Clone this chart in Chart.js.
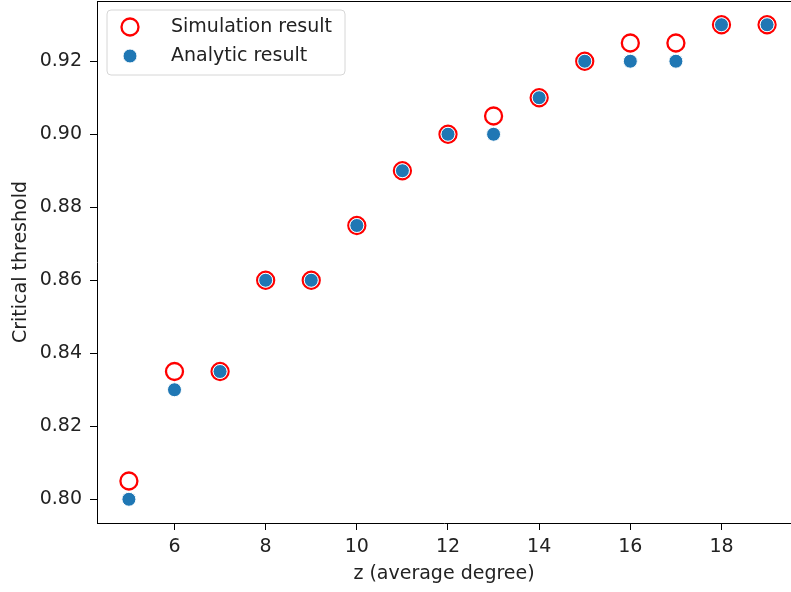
<!DOCTYPE html>
<html>
<head>
<meta charset="utf-8">
<script src="https://cdn.jsdelivr.net/npm/chart.js@4/dist/chart.umd.min.js"></script>
<style>
  html, body { margin: 0; padding: 0; background: #fff; }
  #thresholdChart { display: block; }
</style>
</head>
<body>
<canvas id="thresholdChart" width="791" height="592"></canvas>
<script>
// average degree z
const degrees = [5, 6, 7, 8, 9, 10, 11, 12, 13, 14, 15, 16, 17, 18, 19];
const simulationResult = [0.805, 0.835, 0.835, 0.86, 0.86, 0.875, 0.89, 0.90, 0.905, 0.91, 0.92, 0.925, 0.925, 0.93, 0.93];
const analyticResult = [0.80, 0.83, 0.835, 0.86, 0.86, 0.875, 0.89, 0.90, 0.90, 0.91, 0.92, 0.92, 0.92, 0.93, 0.93];
const xTicks = [6, 8, 10, 12, 14, 16, 18];
const yTicks = [0.80, 0.82, 0.84, 0.86, 0.88, 0.90, 0.92];

const FONT = 'DejaVu Sans';
const TEXT_COLOR = '#222';

function toPoints(xs, ys) {
  return xs.map((x, i) => ({ x: x, y: ys[i] }));
}

// matplotlib style frame (top spine) + legend in upper left
const framePlugin = {
  id: 'frame',
  afterDraw(chart) {
    const ctx = chart.ctx;
    const area = chart.chartArea;
    ctx.save();
    ctx.strokeStyle = '#000';
    ctx.lineWidth = 1;
    ctx.beginPath();
    ctx.moveTo(area.left, area.top + 0.5);
    ctx.lineTo(area.right, area.top + 0.5);
    ctx.stroke();

    // legend box
    const bx = 107, by = 10, bw = 238, bh = 65, r = 4;
    ctx.beginPath();
    ctx.moveTo(bx + r, by);
    ctx.arcTo(bx + bw, by, bx + bw, by + bh, r);
    ctx.arcTo(bx + bw, by + bh, bx, by + bh, r);
    ctx.arcTo(bx, by + bh, bx, by, r);
    ctx.arcTo(bx, by, bx + bw, by, r);
    ctx.closePath();
    ctx.fillStyle = 'rgba(255,255,255,0.8)';
    ctx.fill();
    ctx.strokeStyle = '#d6d6d6';
    ctx.stroke();

    const items = chart.data.datasets;
    items.forEach((ds, i) => {
      const cy = 27 + i * 29;
      ctx.beginPath();
      ctx.arc(130, cy, ds.pointRadius, 0, Math.PI * 2);
      ctx.fillStyle = ds.backgroundColor;
      ctx.fill();
      ctx.lineWidth = ds.borderWidth;
      ctx.strokeStyle = ds.borderColor;
      ctx.stroke();
      ctx.fillStyle = TEXT_COLOR;
      ctx.font = '19px "' + FONT + '"';
      ctx.textBaseline = 'middle';
      ctx.textAlign = 'left';
      ctx.fillText(ds.label, 171, cy);
    });
    ctx.restore();
  }
};

const ctx = document.getElementById('thresholdChart').getContext('2d');
const chart = new Chart(ctx, {
  type: 'scatter',
  data: {
    datasets: [{
      label: 'Simulation result',
      data: toPoints(degrees, simulationResult),
      pointRadius: 8.5,
      pointHoverRadius: 8.5,
      borderWidth: 2.3,
      borderColor: '#ff0000',
      backgroundColor: 'rgba(255,255,255,0)',
      order: 2
    }, {
      label: 'Analytic result',
      data: toPoints(degrees, analyticResult),
      pointRadius: 7,
      pointHoverRadius: 7,
      borderWidth: 1,
      borderColor: '#ffffff',
      backgroundColor: '#1f77b4',
      order: 1
    }]
  },
  plugins: [framePlugin],
  options: {
    responsive: false,
    animation: false,
    devicePixelRatio: 1,
    layout: { autoPadding: false, padding: { top: 1, right: 0, left: 0, bottom: 0 } },
    plugins: {
      legend: { display: false },
      tooltip: { enabled: false }
    },
    scales: {
      x: {
        type: 'linear',
        min: 4.3,
        max: 19.525,
        afterBuildTicks: (scale) => { scale.ticks = xTicks.map(v => ({ value: v })); },
        afterFit: (scale) => {
          scale.height = 69;
          scale.paddingLeft = 0;
          scale.paddingRight = 0;
        },
        grid: { drawOnChartArea: false, tickLength: 7, tickColor: '#000' },
        border: { color: '#000', width: 1 },
        ticks: {
          color: TEXT_COLOR,
          font: { family: FONT, size: 19 },
          padding: 6,
          maxRotation: 0
        },
        title: {
          display: true,
          text: 'z (average degree)',
          color: TEXT_COLOR,
          font: { family: FONT, size: 19 },
          padding: { top: 0, bottom: 7 }
        }
      },
      y: {
        min: 0.7935,
        max: 0.9365,
        afterBuildTicks: (scale) => { scale.ticks = yTicks.map(v => ({ value: v })); },
        afterFit: (scale) => {
          scale.width = 97;
          scale.paddingTop = 0;
          scale.paddingBottom = 0;
        },
        grid: { drawOnChartArea: false, tickLength: 7, tickColor: '#000' },
        border: { color: '#000', width: 1 },
        ticks: {
          color: TEXT_COLOR,
          font: { family: FONT, size: 19 },
          padding: 8,
          callback: (v) => Number(v).toFixed(2)
        },
        title: {
          display: true,
          text: 'Critical threshold',
          color: TEXT_COLOR,
          font: { family: FONT, size: 19 },
          padding: { top: 10, bottom: 0 }
        }
      }
    }
  }
});
</script>
</body>
</html>
